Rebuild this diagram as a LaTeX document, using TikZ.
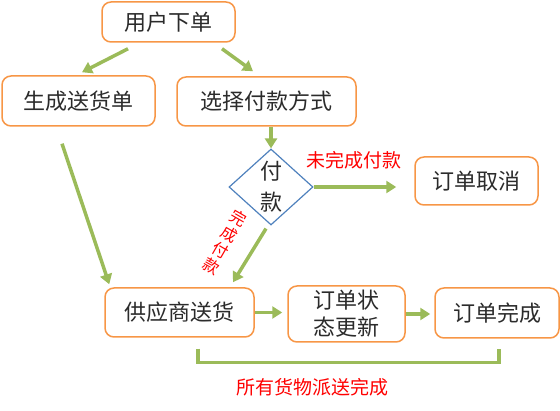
\documentclass[tikz,border=0pt]{standalone}
\usepackage{fontspec}
\setmainfont{Noto Sans CJK SC}
\usetikzlibrary{shapes.geometric,arrows.meta,calc}
\definecolor{boxor}{HTML}{F79646}
\definecolor{arrgr}{HTML}{9BBB59}
\definecolor{dblue}{HTML}{4F81BD}
\definecolor{txt}{HTML}{2B2B2B}
\definecolor{lblred}{HTML}{FF0000}
\tikzset{
  box/.style={draw=boxor, line width=1.5pt, rounded corners=9pt, fill=white, text=txt,
    font=\fontsize{22}{27}\selectfont, align=center, inner sep=0pt},
  decide/.style={draw=dblue, line width=1.2pt, diamond, aspect=1.1, inner sep=0pt,
    minimum width=84pt, minimum height=76pt, text=txt, align=center,
    font=\fontsize{22}{31}\selectfont},
  arr/.style={draw=arrgr, line width=3.5pt, -{Triangle[length=10pt,width=12pt]}},
  brk/.style={draw=arrgr, line width=3.5pt},
  lbl/.style={text=lblred, font=\fontsize{19}{21}\selectfont, inner sep=0pt}
}
\begin{document}
\begin{tikzpicture}[x=1pt,y=-1pt]
\useasboundingbox (0,0) rectangle (560,411);
\node[box, minimum width=133pt, minimum height=40pt] (u) at (168.5,22) {用户下单};
\node[box, minimum width=153pt, minimum height=50pt] (g) at (78.5,101) {生成送货单};
\node[box, minimum width=179pt, minimum height=49pt] (s) at (266.5,101.5) {选择付款方式};
\node[decide] (d) at (271,187) {付\\款};
\node[box, minimum width=123pt, minimum height=48pt] (c) at (476.5,181) {订单取消};
\node[box, minimum width=149pt, minimum height=49pt] (p) at (179.5,312.5) {供应商送货};
\node[box, minimum width=117pt, minimum height=56pt] (t) at (346.5,314) {订单状\\态更新};
\node[box, minimum width=124pt, minimum height=50pt] (f) at (497,313) {订单完成};

\draw[arr] ([xshift=-40.5pt,yshift=-6pt]u.south) -- ([xshift=3.5pt,yshift=3pt]g.north);
\draw[arr] ([xshift=53.5pt,yshift=-6pt]u.south) -- ([xshift=-13.5pt,yshift=5pt]s.north);
\draw[arr] (d.north |- s.south) -- (d.north);
\draw[arr, shorten >=18pt] (d.east) -- (d.east -| c.west);
\draw[arr] ([xshift=-5pt,yshift=-3pt]d.south) -- ([xshift=53.5pt,yshift=5pt]p.north);
\draw[arr] ([xshift=-16.5pt,yshift=-17pt]g.south) -- ([xshift=5pt,yshift=3pt]p.north west);
\draw[arr, shorten >=5pt] (p.east) -- (p.east -| t.west);
\draw[arr, shorten >=4pt] (t.east) -- (t.east -| f.west);

\coordinate (bl) at ([xshift=18.5pt,yshift=-11pt]p.south);
\coordinate (br) at ([xshift=2pt,yshift=-10pt]f.south);
\draw[brk] (bl) -- ++(0,14) -| (br);

\node[lbl] (l1) at (354,160) {未完成付款};
\node[lbl, rotate=-30, align=center, font=\fontsize{16}{18.5}\selectfont] (l2) at (225,242) {完\\成\\付\\款};
\node[lbl] (l3) at (312,387) {所有货物派送完成};
\end{tikzpicture}
\end{document}
